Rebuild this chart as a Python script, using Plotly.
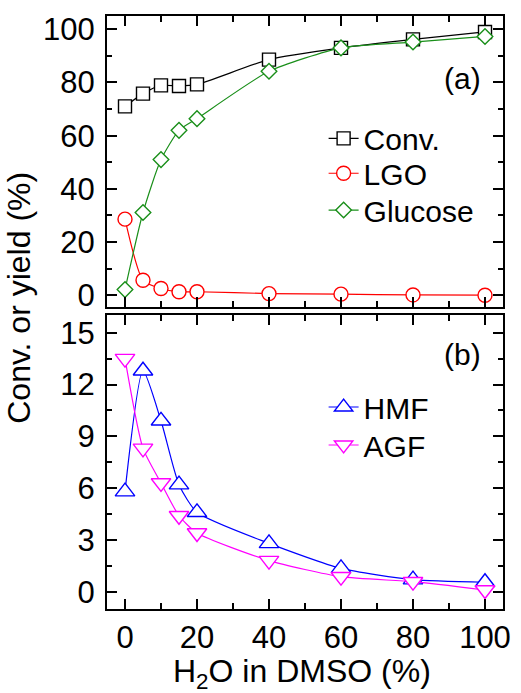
import plotly.graph_objects as go
from plotly.subplots import make_subplots

x_h2o = [0, 5, 10, 15, 20, 40, 60, 80, 100]
conv = [71.0, 75.8, 78.9, 78.7, 79.3, 88.6, 93.0, 96.2, 99.0]
lgo = [28.6, 5.6, 2.5, 1.3, 1.3, 0.6, 0.4, 0.1, 0.0]
glucose = [2.1, 31.1, 51.0, 62.0, 66.4, 84.2, 93.0, 95.2, 97.3]
hmf = [5.8, 12.8, 9.9, 6.2, 4.6, 2.8, 1.35, 0.7, 0.55]
agf = [13.5, 8.3, 6.3, 4.4, 3.4, 1.8, 0.87, 0.58, 0.1]

FONT = "Liberation Sans, Arial, sans-serif"
BLACK = "#000000"
RED = "#ff0000"
GREEN = "#1a8f1a"
BLUE = "#0000ff"
MAGENTA = "#ff00ff"

fig = make_subplots(rows=2, cols=1, shared_xaxes=False, vertical_spacing=0.0)

def add(x, y, name, color, symbol, size, row, legend):
    fig.add_trace(go.Scatter(
        x=x, y=y, name=name, mode="lines+markers",
        line=dict(color=color, width=1.2, shape="spline", smoothing=0.6),
        marker=dict(symbol=symbol, size=size, color="white",
                    line=dict(color=color, width=1.4)),
        legend=legend, cliponaxis=False,
    ), row=row, col=1)

add(x_h2o, conv, "Conv.", BLACK, "square", 13, 1, "legend")
add(x_h2o, lgo, "LGO", RED, "circle", 14, 1, "legend2")
add(x_h2o, glucose, "Glucose", GREEN, "diamond", 12, 1, "legend3")
add(x_h2o, hmf, "HMF", BLUE, "triangle-up", 17, 2, "legend4")
add(x_h2o, agf, "AGF", MAGENTA, "triangle-down", 17, 2, "legend5")

axis_common = dict(
    showline=True, linecolor=BLACK, linewidth=2, mirror="allticks",
    ticks="inside", ticklen=10, tickwidth=1.5, tickcolor=BLACK,
    showgrid=False, zeroline=False,
    tickfont=dict(family=FONT, size=31, color=BLACK),
)

fig.update_xaxes(range=[-5, 105], tickvals=[0, 20, 40, 60, 80, 100],
                 minor=dict(tickvals=[10, 30, 50, 70, 90], ticklen=6, tickwidth=1.5,
                            tickcolor=BLACK, ticks="inside"),
                 **axis_common)
fig.update_xaxes(showticklabels=False, row=1, col=1)

fig.update_yaxes(range=[-4.5, 105], tickvals=[0, 20, 40, 60, 80, 100],
                 minor=dict(tickvals=[10, 30, 50, 70, 90], ticklen=5, tickwidth=1.5,
                            tickcolor=BLACK, ticks="inside"),
                 ticklabelstandoff=4,
                 row=1, col=1, **axis_common)
fig.update_yaxes(range=[-1.0, 16.0], tickvals=[0, 3, 6, 9, 12, 15],
                 minor=dict(tickvals=[1.5, 4.5, 7.5, 10.5, 13.5], ticklen=5, tickwidth=1.5,
                            tickcolor=BLACK, ticks="inside"),
                 ticklabelstandoff=4,
                 row=2, col=1, **axis_common)

def leg(y):
    return dict(x=0.547, y=y, xanchor="left", yanchor="middle",
                bgcolor="rgba(0,0,0,0)", font=dict(family=FONT, size=30),
                itemwidth=30)

fig.update_layout(
    width=521, height=693,
    margin=dict(l=107, r=10, t=16, b=84),
    paper_bgcolor="white", plot_bgcolor="white",
    font=dict(family=FONT, size=30, color=BLACK),
    yaxis=dict(domain=[0.509, 1.0]),
    yaxis2=dict(domain=[0.0, 0.495]),
    legend=leg(0.7937),
    legend2=leg(0.7348),
    legend3=leg(0.6728),
    legend4=leg(0.3406),
    legend5=leg(0.2766),
    showlegend=True,
    annotations=[
        dict(text="(a)", x=0.949, y=0.895, xref="paper", yref="paper",
             xanchor="right", yanchor="middle", showarrow=False,
             font=dict(family=FONT, size=30)),
        dict(text="(b)", x=0.949, y=0.43, xref="paper", yref="paper",
             xanchor="right", yanchor="middle", showarrow=False,
             font=dict(family=FONT, size=30)),
        dict(text="Conv. or yield (%)", x=-0.222, y=0.525, xref="paper", yref="paper",
             textangle=-90, xanchor="center", yanchor="middle", showarrow=False,
             font=dict(family=FONT, size=32)),
        dict(text="H<sub>2</sub>O in DMSO (%)", x=0.493, y=-0.108, xref="paper", yref="paper",
             xanchor="center", yanchor="middle", showarrow=False,
             font=dict(family=FONT, size=32)),
    ],
)

fig.write_html("out.html")
